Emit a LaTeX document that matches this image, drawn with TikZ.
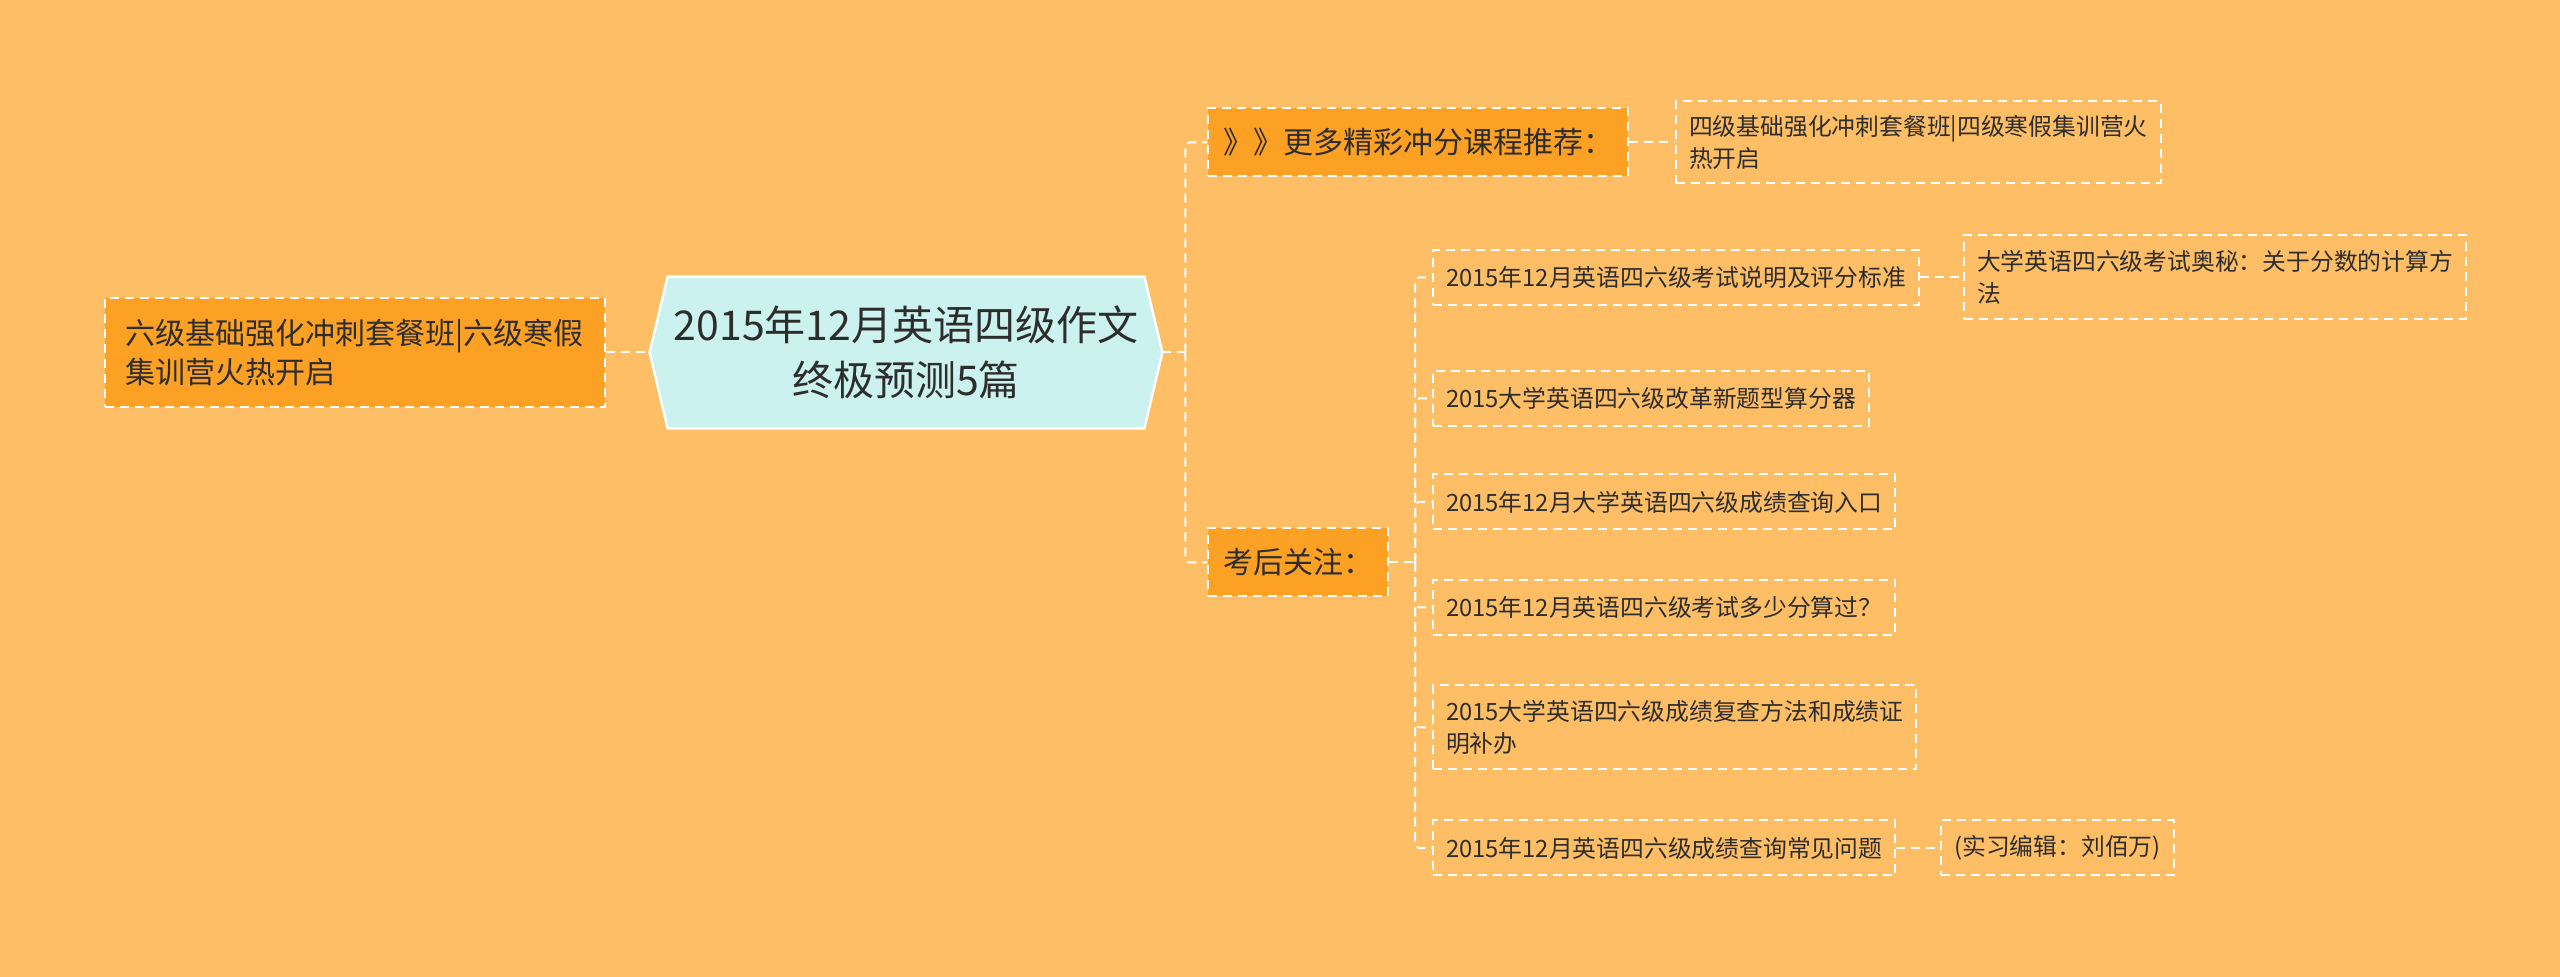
\documentclass[tikz,border=0pt]{standalone}
\usepackage{fontspec}
\newfontfamily\cjk{Noto Sans CJK SC}
\usepackage{xcolor}
\usepackage{tikz}
\usetikzlibrary{positioning, backgrounds}

\definecolor{bgorange}{RGB}{254,190,102}
\definecolor{topicfill}{RGB}{253,161,36}
\definecolor{rootfill}{RGB}{204,242,239}
\definecolor{inktext}{RGB}{45,45,45}

\begin{document}
\begin{tikzpicture}[
        x=0.5pt, y=-0.5pt,
        link/.style={draw=white, line width=1pt, dash pattern=on 4.5pt off 3pt, rounded corners=2pt},
        rootbox/.style={rectangle, align=center, text=inktext, font=\cjk\fontsize{20.5pt}{27.8pt}\selectfont, minimum width=256pt, minimum height=75.5pt},
        topic/.style={rectangle, fill=topicfill, draw=white, line width=1pt, dash pattern=on 4.5pt off 3pt, text=inktext, align=left, inner xsep=7.5pt, font=\cjk\fontsize{15pt}{19.6pt}\selectfont},
        leaf/.style={rectangle, draw=white, line width=1pt, dash pattern=on 4.5pt off 3pt, text=inktext, align=left, inner xsep=6.5pt, minimum height=27.5pt, font=\cjk\fontsize{11.9pt}{16pt}\selectfont},
    ]
        \useasboundingbox (0,0) rectangle (2560,977);

        % Centre
        \node[rootbox] (root) at (906,352.5) {2015年12月英语四级作文\\终极预测5篇};

        % Left topic
        \node[topic, minimum height=54.5pt, inner xsep=10.5pt, left=22pt of root] (left) {六级基础强化冲刺套餐班|六级寒假\\集训营火热开启};

        % Right topics
        \node[topic, anchor=west, minimum height=34pt] (more) at (1207,142.5) {》》更多精彩冲分课程推荐：};
        \node[topic, anchor=west, minimum height=34pt] (after) at (1207,562.5) {考后关注：};

        % Leaves
        \node[leaf, minimum height=41pt, right=23pt of more] (course) {四级基础强化冲刺套餐班|四级寒假集训营火\\热开启};

        \node[leaf, anchor=west] (b1) at (1432,277.5) {2015年12月英语四六级考试说明及评分标准};
        \node[leaf, anchor=west] (b2) at (1432,398.5) {2015大学英语四六级改革新题型算分器};
        \node[leaf, anchor=west] (b3) at (1432,502) {2015年12月大学英语四六级成绩查询入口};
        \node[leaf, anchor=west] (b4) at (1432,607.5) {2015年12月英语四六级考试多少分算过？};
        \node[leaf, anchor=west, minimum height=42pt] (b5) at (1432,727.5) {2015大学英语四六级成绩复查方法和成绩证\\明补办};
        \node[leaf, anchor=west] (b6) at (1432,848) {2015年12月英语四六级成绩查询常见问题};

        \node[leaf, minimum height=42pt, right=21.5pt of b1] (secret) {大学英语四六级考试奥秘：关于分数的计算方\\法};
        \node[leaf, right=22pt of b6] (editor) {(实习编辑：刘佰万)};

        % Connectors
        \coordinate[right=11.5pt of root.east] (s1);
        \coordinate[right=13pt of after.east] (s2);
        \draw[link] (left.east) -- (root.west);
        \draw[link] (root.east) -- (s1);
        \draw[link] (s1) |- (more.west);
        \draw[link] (s1) |- (after.west);
        \draw[link] (more.east) -- (more.east -| course.west);
        \draw[link] (after.east) -- (s2);
        \foreach \n in {b1,b2,b3,b4,b5,b6}
            \draw[link] (s2) |- (\n.west);
        \draw[link] (b1.east) -- (b1.east -| secret.west);
        \draw[link] (b6.east) -- (b6.east -| editor.west);

        \begin{scope}[on background layer]
            \fill[bgorange] (0,0) rectangle (2560,977);
            \filldraw[fill=rootfill, draw=white, line width=1.2pt]
                (root.west) -- ([xshift=9pt]root.north west) -- ([xshift=-9pt]root.north east)
                -- (root.east) -- ([xshift=-9pt]root.south east) -- ([xshift=9pt]root.south west) -- cycle;
        \end{scope}
    \end{tikzpicture}
\end{document}
